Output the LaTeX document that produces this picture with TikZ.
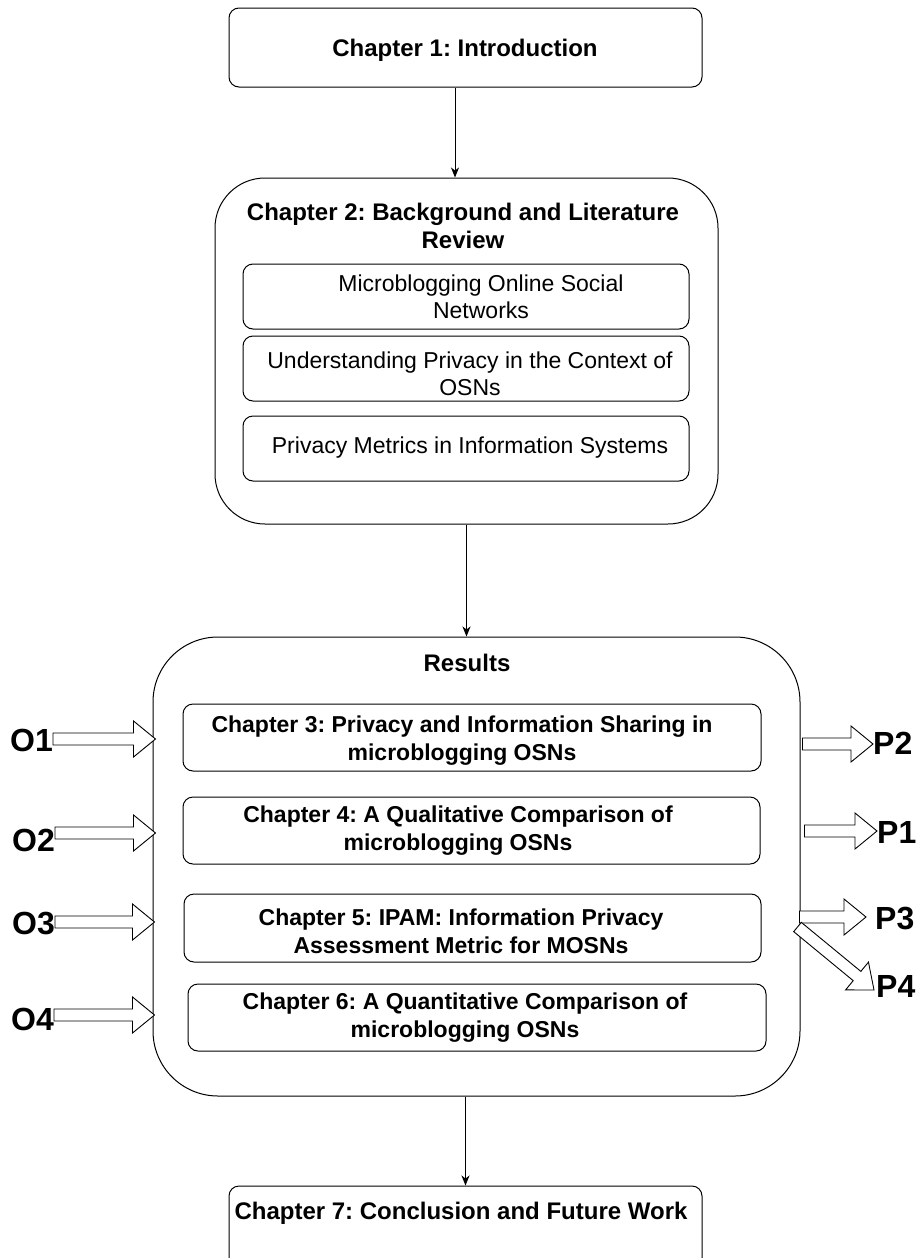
\documentclass[tikz,border=0pt]{standalone}
\usepackage{fontspec}
\setmainfont{Liberation Sans}
\usetikzlibrary{calc,arrows.meta}
\frenchspacing

\newcommand{\blkarrow}[2]{%
  \coordinate (hb) at ($(#2)!22pt!(#1)$);
  \draw[blockarrow]
    ($(#1)!6pt!90:(#2)$) -- ($(hb)!6pt!90:(#2)$) -- ($(hb)!18pt!90:(#2)$) -- (#2)
    -- ($(hb)!18pt!-90:(#2)$) -- ($(hb)!6pt!-90:(#2)$) -- ($(#1)!6pt!-90:(#2)$) -- cycle;
}

\begin{document}
\frenchspacing
\begin{tikzpicture}[x=1pt,y=-1pt,
  box/.style={draw=black, line width=1pt, rounded corners=10pt, inner sep=0pt, fill=white},
  bigbox/.style={box, rounded corners=#1},
  conn/.style={draw=black, line width=1pt, -{Stealth[length=10pt,width=8pt,inset=3pt]}},
  blockarrow/.style={draw=black, line width=0.9pt, fill=white, line join=miter},
  btxt/.style={font=\fontsize{23}{28}\selectfont\bfseries, align=center, inner sep=0pt},
  btxtl/.style={font=\fontsize{24}{28}\selectfont\bfseries, align=center, inner sep=0pt},
  rtxt/.style={font=\fontsize{23}{27}\selectfont, align=center, inner sep=0pt},
  lab/.style={font=\fontsize{32}{36}\selectfont\bfseries, inner sep=0pt}
]
\clip (0,0) rectangle (920,1258);
\fill[white] (0,0) rectangle (920,1258);

% Chapter 1
\node[box, minimum width=473pt, minimum height=79pt] (ch1) at (465.5,47.5) {};
\node[btxtl] (t1) at (465,50) {Chapter 1: Introduction};

% Chapter 2
\node[bigbox=50pt, minimum width=503pt, minimum height=346pt] (ch2) at (466.5,351) {};
\node[btxtl] (t2) at (463,226) {Chapter 2: Background and Literature\\Review};
\node[box, minimum width=446pt, minimum height=65pt] (b1) at (466,296.5) {};
\node[box, minimum width=446pt, minimum height=65pt] (b2) at (466,368.5) {};
\node[box, minimum width=446pt, minimum height=65pt] (b3) at (466,448.5) {};
\node[rtxt] (t21) at (481,297) {Microblogging Online Social\\Networks};
\node[rtxt] (t22) at (470,374) {Understanding Privacy in the Context of\\OSNs};
\node[rtxt] (t23) at (470,448) {Privacy Metrics in Information Systems};

% Results
\node[bigbox=65pt, minimum width=647pt, minimum height=459pt] (res) at (476.5,866.5) {};
\node[btxtl] (tr) at (467,663) {Results};
\node[box, minimum width=578pt, minimum height=67pt] (ch3) at (472,737.5) {};
\node[box, minimum width=577pt, minimum height=67pt] (ch4) at (471.5,830.5) {};
\node[box, minimum width=577pt, minimum height=68pt] (ch5) at (472.5,928) {};
\node[box, minimum width=578pt, minimum height=67pt] (ch6) at (477,1017.5) {};
\node[btxt] (t3) at (462,741) {Chapter 3: Privacy and Information Sharing in\\microblogging OSNs};
\node[btxt] (t4) at (458,831) {Chapter 4: A Qualitative Comparison of\\microblogging OSNs};
\node[btxt] (t5) at (461,931) {Chapter 5: IPAM: Information Privacy\\Assessment Metric for MOSNs};
\node[btxt] (t6) at (465,1018) {Chapter 6: A Quantitative Comparison of\\microblogging OSNs};

% Chapter 7
\node[box, minimum width=473pt, minimum height=82pt] (ch7) at (465.5,1227) {};
\node[btxtl] (t7) at (461,1213) {Chapter 7: Conclusion and Future Work};

% Connectors
\draw[conn] ([xshift=-10.5pt]ch1.south) -- ([xshift=-10.5pt]ch1.south |- ch2.north);
\draw[conn] (ch2.south) -- (ch2.south |- res.north);
\draw[conn] (ch7.north |- res.south) -- (ch7.north);

% O labels and block arrows
\node[lab, anchor=east] (o1) at (53,740) {O1};
\node[lab, anchor=east] (o2) at (55,840) {O2};
\node[lab, anchor=east] (o3) at (55,923) {O3};
\node[lab, anchor=east] (o4) at (54,1019) {O4};
\coordinate (o1a) at (53,739);
\coordinate (o2a) at (55,833);
\coordinate (o3a) at (55,922);
\coordinate (o4a) at (54,1015);
\coordinate (o1b) at ([xshift=3pt]o1a -| res.west);
\coordinate (o2b) at ([xshift=3pt]o2a -| res.west);
\coordinate (o3b) at ([xshift=2pt]o3a -| res.west);
\coordinate (o4b) at ([xshift=2pt]o4a -| res.west);
\blkarrow{o1a}{o1b}
\blkarrow{o2a}{o2b}
\blkarrow{o3a}{o3b}
\blkarrow{o4a}{o4b}

% P labels and block arrows
\node[lab, anchor=west] (p2) at (873,743) {P2};
\node[lab, anchor=west] (p1) at (877,832) {P1};
\node[lab, anchor=west] (p3) at (875,918) {P3};
\node[lab, anchor=west] (p4) at (876,986) {P4};
\coordinate (p2a) at ([xshift=2pt]res.east |- 0,744);
\coordinate (p2b) at (p2.west |- p2a);
\coordinate (p1a) at ([xshift=4pt]res.east |- 0,831);
\coordinate (p1b) at (p1.west |- p1a);
\coordinate (p3a) at ([xshift=-1pt]res.east |- 0,917);
\coordinate (p3b) at ([xshift=-9pt]p3.west |- p3a);
\coordinate (p4a) at ([xshift=-3pt]res.east |- 0,927);
\coordinate (p4b) at ([xshift=-2pt,yshift=-4pt]p4.west);
\blkarrow{p2a}{p2b}
\blkarrow{p1a}{p1b}
\blkarrow{p3a}{p3b}
\blkarrow{p4a}{p4b}
\end{tikzpicture}
\end{document}
